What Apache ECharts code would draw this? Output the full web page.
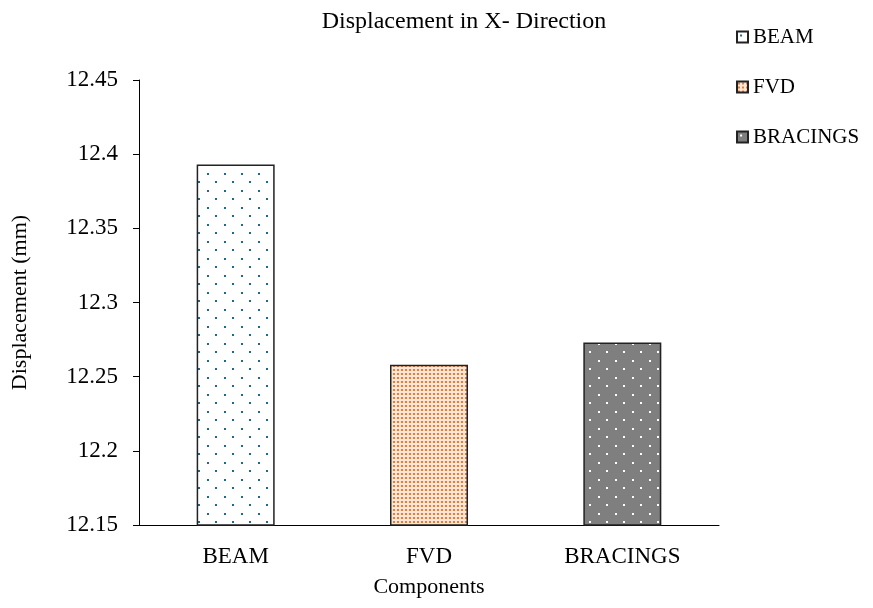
<!DOCTYPE html>
<html>
<head>
<meta charset="utf-8">
<script src="https://cdn.jsdelivr.net/npm/echarts@6/dist/echarts.min.js"></script>
<style>
html,body{margin:0;padding:0;background:#fff;}
#chart{width:873px;height:608px;}
</style>
</head>
<body>
<div id="chart"></div>
<script>
const categories = ['BEAM', 'FVD', 'BRACINGS'];
const values = [12.393, 12.258, 12.273];
const yMin = 12.15, yMax = 12.45, yStep = 0.05;

const FONT = "'Liberation Serif', 'Times New Roman', serif";

function makePattern(bg, dot, w, h, pts, s) {
  const c = document.createElement('canvas');
  c.width = w; c.height = h;
  const ctx = c.getContext('2d');
  ctx.fillStyle = bg; ctx.fillRect(0, 0, w, h);
  ctx.fillStyle = dot;
  pts.forEach(p => ctx.fillRect(p[0], p[1], s, s));
  return c;
}
const beamPat = makePattern('#ffffff', '#1f6a8c', 17, 17, [[3,3],[11,11]], 2);
const fvdPat = makePattern('#fde6d6', '#ee7b34', 4, 4, [[1,1]], 2);
const braPat = makePattern('#7f7f7f', '#ffffff', 17, 17, [[3,3],[11,11]], 2);
const pats = [beamPat, fvdPat, braPat];

const chart = echarts.init(document.getElementById('chart'), null, {renderer: 'canvas'});

const series = categories.map((name, i) => ({
  name: name,
  type: 'bar',
  stack: 'all',
  barWidth: 78,
  data: categories.map((c, j) => j === i ? values[i] : '-'),
  itemStyle: {
    color: {image: pats[i], repeat: 'repeat'},
    borderColor: '#222',
    borderWidth: 1.5
  }
}));

chart.setOption({
  animation: false,
  backgroundColor: '#ffffff',
  textStyle: {fontFamily: FONT},
  title: {
    text: 'Displacement in X- Direction',
    left: 459, top: 5, textAlign: 'center',
    textStyle: {fontFamily: FONT, fontSize: 24, fontWeight: 'normal', color: '#000'}
  },
  legend: {
    orient: 'vertical',
    left: 731, top: 20,
    itemWidth: 11, itemHeight: 11,
    itemGap: 26,
    icon: 'rect',
    data: categories,
    textStyle: {fontFamily: FONT, fontSize: 21, color: '#000', lineHeight: 24}
  },
  grid: {left: 139, right: 154, top: 80, bottom: 83, containLabel: false, outerBoundsMode: 'none'},
  xAxis: {
    type: 'category',
    data: categories,
    name: 'Components',
    nameLocation: 'middle',
    nameGap: 51,
    nameTextStyle: {fontFamily: FONT, fontSize: 22, color: '#000'},
    axisLine: {lineStyle: {color: '#000', width: 1}},
    axisTick: {show: false},
    axisLabel: {fontFamily: FONT, fontSize: 23, color: '#000', margin: 20}
  },
  yAxis: {
    type: 'value',
    min: yMin, max: yMax, interval: yStep,
    name: 'Displacement (mm)',
    nameLocation: 'middle',
    nameGap: 108,
    nameTextStyle: {fontFamily: FONT, fontSize: 22, color: '#000'},
    axisLine: {show: true, lineStyle: {color: '#000', width: 1}},
    axisTick: {show: true, inside: false, length: 6, lineStyle: {color: '#000'}},
    splitLine: {show: false},
    axisLabel: {fontFamily: FONT, fontSize: 23, color: '#000', margin: 21}
  },
  series: series
});
</script>
</body>
</html>
